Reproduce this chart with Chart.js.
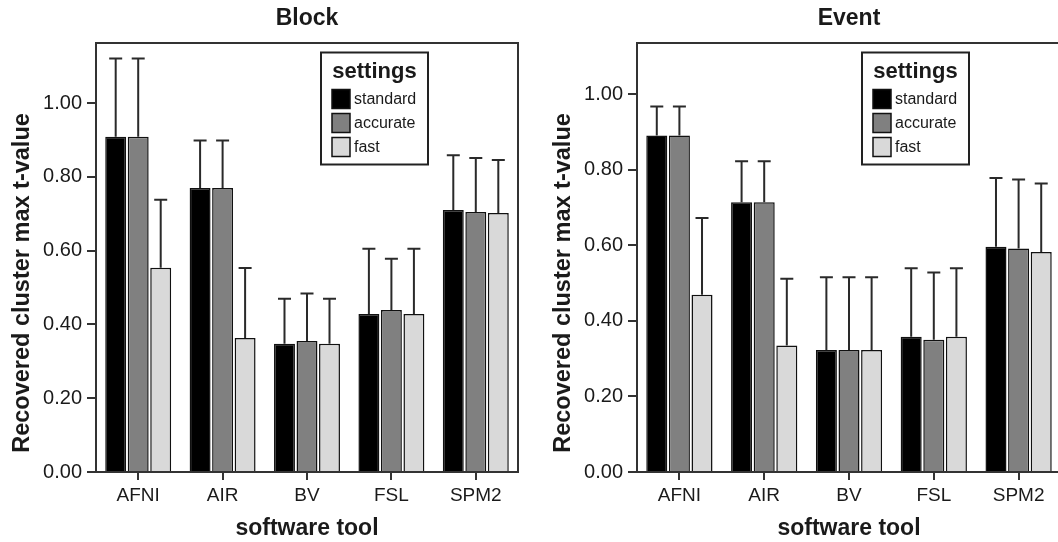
<!DOCTYPE html>
<html>
<head>
<meta charset="utf-8">
<title>Recovered cluster max t-value</title>
<script src="https://cdn.jsdelivr.net/npm/chart.js@4.4.1/dist/chart.umd.min.js"></script>
<style>
    html, body { margin: 0; padding: 0; background: #fff; overflow: hidden; }
    body { width: 1058px; height: 542px; position: relative; }
    #blockChart { position: absolute; left: 0; top: 0; }
    #eventChart { position: absolute; left: 530px; top: 0; }
</style>
</head>
<body>
<canvas id="blockChart" width="530" height="542"></canvas>
<canvas id="eventChart" width="545" height="542"></canvas>
<script>
const categories = ['AFNI', 'AIR', 'BV', 'FSL', 'SPM2'];
const settingNames = ['standard', 'accurate', 'fast'];
const settingColors = ['#000000', '#808080', '#d9d9d9'];
const yTicks = [0, 0.2, 0.4, 0.6, 0.8, 1.0];

// Block design: mean values and upper error bar length
const blockStandard = [0.909, 0.770, 0.348, 0.428, 0.710];
const blockAccurate = [0.909, 0.770, 0.355, 0.439, 0.705];
const blockFast     = [0.554, 0.363, 0.348, 0.428, 0.702];
const blockStandardErr = [0.212, 0.129, 0.122, 0.177, 0.149];
const blockAccurateErr = [0.212, 0.129, 0.129, 0.139, 0.146];
const blockFastErr     = [0.184, 0.190, 0.122, 0.177, 0.144];

// Event design
const eventStandard = [0.890, 0.714, 0.323, 0.358, 0.596];
const eventAccurate = [0.890, 0.714, 0.323, 0.350, 0.591];
const eventFast     = [0.469, 0.335, 0.323, 0.358, 0.582];
const eventStandardErr = [0.077, 0.108, 0.192, 0.181, 0.182];
const eventAccurateErr = [0.077, 0.108, 0.192, 0.178, 0.183];
const eventFastErr     = [0.203, 0.176, 0.192, 0.181, 0.181];

const FONT = "'Liberation Sans', Arial, Helvetica, sans-serif";
const INK = '#1a1a1a';

// Error bars, outer box, titles and the boxed legend
const panelPlugin = {
    id: 'panel',
    afterDatasetsDraw(chart) {
        const ctx = chart.ctx;
        const y = chart.scales.y;
        ctx.save();
        ctx.strokeStyle = '#2a2a2a';
        ctx.lineWidth = 2;
        chart.data.datasets.forEach((ds, i) => {
            const meta = chart.getDatasetMeta(i);
            meta.data.forEach((bar, j) => {
                const top = y.getPixelForValue(ds.data[j] + ds.errors[j]);
                ctx.beginPath();
                ctx.moveTo(bar.x, bar.y);
                ctx.lineTo(bar.x, top);
                ctx.moveTo(bar.x - 6.5, top);
                ctx.lineTo(bar.x + 6.5, top);
                ctx.stroke();
            });
        });
        ctx.restore();
    },
    afterDraw(chart, args, opts) {
        const ctx = chart.ctx;
        const area = chart.chartArea;
        const cx = (area.left + area.right) / 2;
        ctx.save();

        // plot box
        ctx.strokeStyle = '#333';
        ctx.lineWidth = 2;
        ctx.strokeRect(area.left, area.top, area.right - area.left, area.bottom - area.top);

        // titles
        ctx.fillStyle = INK;
        ctx.textAlign = 'center';
        ctx.textBaseline = 'middle';
        ctx.font = 'bold 23px ' + FONT;
        ctx.fillText(opts.title, cx, 19);
        ctx.fillText('software tool', cx, 529);
        ctx.save();
        ctx.translate(area.left - 73.5, 283);
        ctx.rotate(-Math.PI / 2);
        ctx.font = 'bold 23.5px ' + FONT;
        ctx.fillText('Recovered cluster max t-value', 0, 0);
        ctx.restore();

        // legend
        const lx = area.left + 225;
        const ly = 52.5;
        ctx.fillStyle = '#fff';
        ctx.fillRect(lx, ly, 107, 112);
        ctx.strokeStyle = '#222';
        ctx.lineWidth = 2;
        ctx.strokeRect(lx, ly, 107, 112);
        ctx.fillStyle = INK;
        ctx.font = 'bold 22px ' + FONT;
        ctx.fillText('settings', lx + 53.5, ly + 19);
        ctx.textAlign = 'left';
        ctx.font = '16px ' + FONT;
        chart.data.datasets.forEach((ds, i) => {
            const sy = ly + 37 + i * 24;
            ctx.fillStyle = ds.backgroundColor;
            ctx.fillRect(lx + 11, sy, 18, 19);
            ctx.strokeStyle = '#111';
            ctx.lineWidth = 1.5;
            ctx.strokeRect(lx + 11, sy, 18, 19);
            ctx.fillStyle = INK;
            ctx.fillText(ds.label, lx + 33, sy + 10);
        });
        ctx.restore();
    }
};

function makePanel(canvasId, title, series, errors, yMax, padLeft, padRight) {
    const ctx = document.getElementById(canvasId).getContext('2d');
    return new Chart(ctx, {
        type: 'bar',
        data: {
            labels: categories,
            datasets: settingNames.map((name, i) => ({
                label: name,
                data: series[i],
                errors: errors[i],
                backgroundColor: settingColors[i],
                borderColor: '#111111',
                borderWidth: 1.5,
                barPercentage: 0.93,
                categoryPercentage: 0.8
            }))
        },
        options: {
            responsive: false,
            animation: false,
            devicePixelRatio: 1,
            layout: {
                padding: { top: 43, left: padLeft, right: padRight, bottom: 0 }
            },
            plugins: {
                legend: { display: false },
                tooltip: { enabled: false },
                panel: { title: title }
            },
            scales: {
                x: {
                    offset: true,
                    border: { display: false },
                    grid: {
                        display: true,
                        drawOnChartArea: false,
                        offset: false,
                        tickLength: 8,
                        color: '#333',
                        lineWidth: 2
                    },
                    ticks: {
                        autoSkip: false,
                        maxRotation: 0,
                        padding: 4,
                        color: INK,
                        font: { family: FONT, size: 19 }
                    },
                    afterFit(scale) { scale.height = 70; }
                },
                y: {
                    min: 0,
                    max: yMax,
                    border: { display: false },
                    grid: {
                        display: true,
                        drawOnChartArea: false,
                        tickLength: 9,
                        color: '#333',
                        lineWidth: 2
                    },
                    ticks: {
                        padding: 5,
                        color: INK,
                        font: { family: FONT, size: 20 },
                        callback: v => v.toFixed(2)
                    },
                    afterBuildTicks(scale) {
                        scale.ticks = yTicks.map(v => ({ value: v }));
                    },
                    afterFit(scale) { scale.width = 60; }
                }
            }
        },
        plugins: [panelPlugin]
    });
}

makePanel('blockChart', 'Block',
    [blockStandard, blockAccurate, blockFast],
    [blockStandardErr, blockAccurateErr, blockFastErr],
    1.163, 36, 12);

makePanel('eventChart', 'Event',
    [eventStandard, eventAccurate, eventFast],
    [eventStandardErr, eventAccurateErr, eventFastErr],
    1.135, 47, 14);
</script>
</body>
</html>
